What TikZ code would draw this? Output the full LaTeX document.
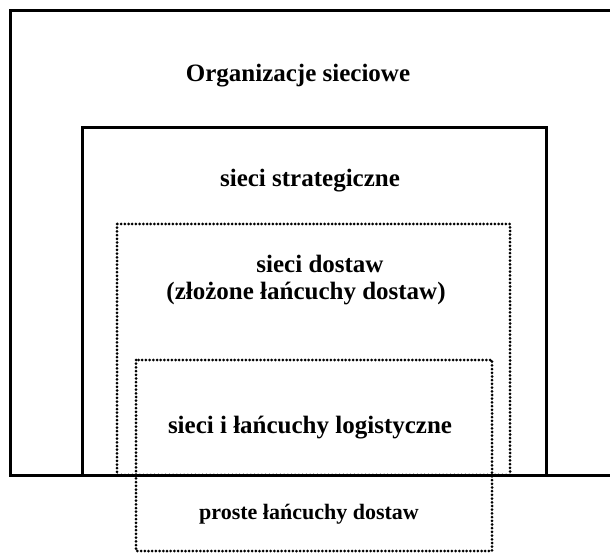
\documentclass[tikz,border=0pt]{standalone}
\usepackage{fontspec}
\setmainfont{Liberation Serif}
\usetikzlibrary{calc}

\begin{document}
\begin{tikzpicture}[x=1pt, y=-1pt, every node/.style={inner sep=1.5pt, font=\bfseries\fontsize{25}{28}\selectfont},
    frame/.style={line width=3pt, line cap=rect},
    dotframe/.style={line width=3pt, line cap=round, dash pattern=on 0pt off 3.7pt}]
  \useasboundingbox (0,0) rectangle (610,553);
  % solid frames
  \draw[frame] (615,11) -- (10,11) -- (10,475) -- (615,475);
  \draw[frame] (82,475) -- (82,128) -- (546,128) -- (546,475);
  % dotted frames
  \draw[dotframe] (117,224) rectangle (510,475);
  \draw[dotframe] (136,360) rectangle (492,551);
  % labels
  \node (org) at (298,76) {Organizacje sieciowe};
  \node (strat) at (310,181) {sieci strategiczne};
  \node (dost) at (320,264) {sieci dostaw};
  \node (zloz) at (306,294) {(złożone łańcuchy dostaw)};
  \node (logi) at (310,428) {sieci i łańcuchy logistyczne};
  \node[font=\bfseries\fontsize{22}{25}\selectfont] (prost) at (309,514) {proste łańcuchy dostaw};
\end{tikzpicture}
\end{document}
